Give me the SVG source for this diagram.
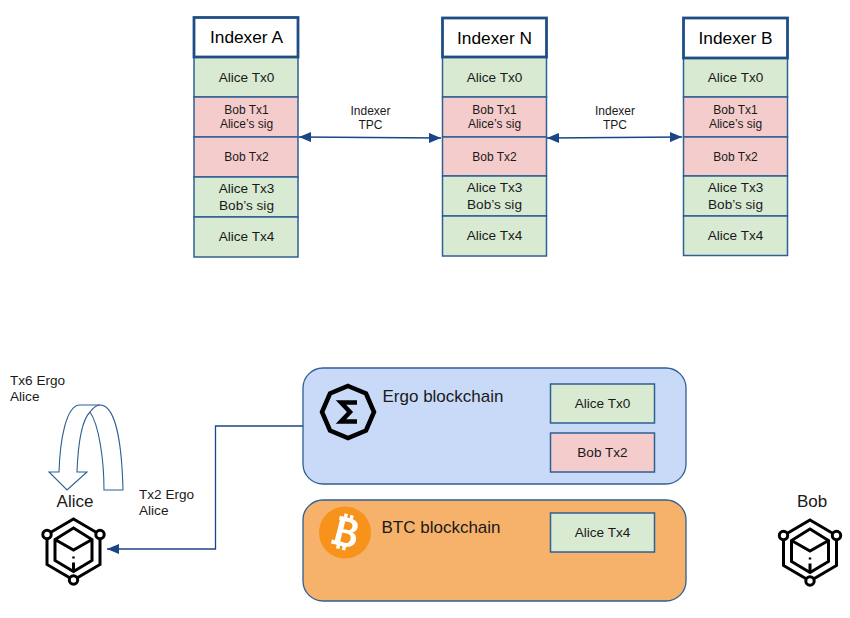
<svg xmlns="http://www.w3.org/2000/svg" xmlns:xlink="http://www.w3.org/1999/xlink" width="850" height="618" viewBox="0 0 850 618">
<style>
text{font-family:"Liberation Sans",Arial,sans-serif;fill:#1a1a1a;font-size:13.6px}
.m{text-anchor:middle}
.s{font-size:12px}
.h{font-size:17.300px;fill:#000}
.big{font-size:17px}
.g{fill:#d9ead3;stroke:#2f5f93;stroke-width:1.500}
.r{fill:#f4cccc;stroke:#2f5f93;stroke-width:1.500}
.hd{fill:#fff;stroke:#1f4e86;stroke-width:2.800}
.chain{stroke:#2f5f93;stroke-width:1.300}
.c{fill:none;stroke:#1c4587;stroke-width:1.300}
.ic{fill:none;stroke:#000;stroke-width:3;stroke-linejoin:miter}
.hub{fill:#fff;stroke:#000;stroke-width:3}
</style>
<defs>
<marker id="a" viewBox="0 0 12 10" refX="12" refY="5" markerWidth="12" markerHeight="10" markerUnits="userSpaceOnUse" orient="auto-start-reverse"><path d="M0 0L12 5L0 10Z" fill="#1c4587"/></marker>
<g id="person">
<path class="ic" d="M0-31L26.500-15.500V14.500L0 30L-26.500 14.500V-15.500Z"/>
<path class="ic" d="M0-22L18.500-10.500V10.500L0 21.500L-18.500 10.500V-10.500ZM-18.500-10.500L0 0L18.500-10.500M0 12.500V21.500"/>
<path d="M0 6.500V8.500" stroke="#000" stroke-width="2.500"/>
<circle class="hub" cx="-26.500" cy="-15.500" r="4.200"/>
<circle class="hub" cx="26.500" cy="-15.500" r="4.200"/>
<circle class="hub" cx="0" cy="30" r="4.200"/>
</g>
</defs>

<g id="connectors">
<path class="c" d="M299 137L441 138" marker-start="url(#a)" marker-end="url(#a)"/>
<path class="c" d="M547 138L682 137" marker-start="url(#a)" marker-end="url(#a)"/>
<path class="c" d="M303 426H215.500V549H107" marker-end="url(#a)"/>
<path id="self-loop" fill="#fff" stroke="#2f5f93" stroke-width="1.100" d="M104 490H123C122 450 117 405 100 405H80C66 405 60 440 59 472H49L67 490L87 472H77C78 445 82 420 90 412C99 425 104 460 104 490Z"/>
<path fill="none" stroke="#2f5f93" stroke-width="1.100" d="M90 412C93 408 96 405 100 405"/>
</g>

<g id="indexer-a">
<rect class="g" x="194" y="57" width="104" height="40"/>
<rect class="r" x="194" y="97" width="104" height="40"/>
<rect class="r" x="194" y="137" width="104" height="40"/>
<rect class="g" x="194" y="177" width="104" height="40"/>
<rect class="g" x="194" y="217" width="104" height="40"/>
<rect class="hd" x="194" y="17.500" width="104" height="39.500"/>
<text class="m h" x="246.500" y="43">Indexer A</text>
<text class="m" x="246.500" y="82">Alice Tx0</text>
<text class="m s" x="246.500" y="114">Bob Tx1</text>
<text class="m s" x="246.500" y="128">Alice’s sig</text>
<text class="m s" x="246.500" y="161">Bob Tx2</text>
<text class="m" x="246.500" y="193">Alice Tx3</text>
<text class="m" x="246.500" y="210">Bob’s sig</text>
<text class="m" x="246.500" y="241">Alice Tx4</text>
</g>

<g id="indexer-n">
<rect class="g" x="442.500" y="57" width="104" height="40"/>
<rect class="r" x="442.500" y="97" width="104" height="40"/>
<rect class="r" x="442.500" y="137" width="104" height="39"/>
<rect class="g" x="442.500" y="176" width="104" height="40"/>
<rect class="g" x="442.500" y="216" width="104" height="40"/>
<rect class="hd" x="442.500" y="18" width="104" height="39"/>
<text class="m h" x="494.500" y="44">Indexer N</text>
<text class="m" x="494.500" y="82">Alice Tx0</text>
<text class="m s" x="494.500" y="114">Bob Tx1</text>
<text class="m s" x="494.500" y="128">Alice’s sig</text>
<text class="m s" x="494.500" y="161">Bob Tx2</text>
<text class="m" x="494.500" y="192">Alice Tx3</text>
<text class="m" x="494.500" y="209">Bob’s sig</text>
<text class="m" x="494.500" y="240">Alice Tx4</text>
</g>

<g id="indexer-b">
<rect class="g" x="683.500" y="58" width="104" height="39"/>
<rect class="r" x="683.500" y="97" width="104" height="40"/>
<rect class="r" x="683.500" y="137" width="104" height="39"/>
<rect class="g" x="683.500" y="176" width="104" height="40"/>
<rect class="g" x="683.500" y="216" width="104" height="39.500"/>
<rect class="hd" x="683.500" y="18" width="104" height="40"/>
<text class="m h" x="735.500" y="44">Indexer B</text>
<text class="m" x="735.500" y="82">Alice Tx0</text>
<text class="m s" x="735.500" y="114">Bob Tx1</text>
<text class="m s" x="735.500" y="128">Alice’s sig</text>
<text class="m s" x="735.500" y="161">Bob Tx2</text>
<text class="m" x="735.500" y="192">Alice Tx3</text>
<text class="m" x="735.500" y="209">Bob’s sig</text>
<text class="m" x="735.500" y="240">Alice Tx4</text>
</g>

<g id="label-tpc-1">
<text class="m s" x="370.500" y="115">Indexer</text>
<text class="m s" x="370.500" y="129">TPC</text>
</g>
<g id="label-tpc-2">
<text class="m s" x="615" y="115">Indexer</text>
<text class="m s" x="615" y="129">TPC</text>
</g>

<g id="ergo-blockchain">
<rect class="chain" x="303" y="368" width="383" height="116" rx="20" fill="#c9daf8"/>
<path fill="none" stroke="#000" stroke-width="4.500" d="M348 386L366 393.500L374 412L366 430.500L348 438L330 430.500L322 412L330 393.500Z"/>
<path fill="none" stroke="#000" stroke-width="4.500" d="M357 402.500H341L350 412L341 421.500H357"/>
<text class="big" x="382.500" y="402">Ergo blockchain</text>
<rect class="g" x="550.500" y="384" width="104" height="39"/>
<text class="m" x="602.500" y="408">Alice Tx0</text>
<rect class="r" x="550.500" y="433" width="104" height="39"/>
<text class="m" x="602.500" y="457">Bob Tx2</text>
</g>

<g id="btc-blockchain">
<rect class="chain" x="303" y="500" width="383" height="101" rx="20" fill="#f6b26b"/>
<circle cx="345" cy="532.500" r="26" fill="#f7931a"/>
<path fill="#fff" fill-rule="evenodd" transform="rotate(14 345 532.500)" d="M336 517.500H340V514H343.500V517.500H346V514H349.500V517.800C354 518.600 356 521.300 356 524.500C356 527.500 354.500 529.500 352 530.500C355.500 531.500 357.500 534 357.500 537.500C357.500 542.500 354 545.500 349.500 546V550H346V546.500H343.500V550H340V546.500H334V542.500H337V521.500H336ZM342.500 521.500V529.500H347C349.500 529.500 350.800 527.800 350.800 525.500C350.800 523.200 349.500 521.500 347 521.500ZM342.500 533V542.500H348C350.500 542.500 352 540.500 352 537.800C352 535 350.500 533 348 533Z"/>
<text class="big" x="381.500" y="533">BTC blockchain</text>
<rect class="g" x="550.500" y="513" width="104" height="39"/>
<text class="m" x="602.500" y="537">Alice Tx4</text>
</g>

<g id="alice">
<text class="m big" x="75" y="507">Alice</text>
<use href="#person" xlink:href="#person" x="73.500" y="550"/>
</g>
<g id="bob">
<text class="m big" x="812" y="507">Bob</text>
<use href="#person" xlink:href="#person" x="810" y="551"/>
</g>

<g id="label-tx6">
<text x="10" y="385">Tx6 Ergo</text>
<text x="10" y="401">Alice</text>
</g>
<g id="label-tx2">
<text x="139" y="499">Tx2 Ergo</text>
<text x="139" y="515">Alice</text>
</g>
</svg>
